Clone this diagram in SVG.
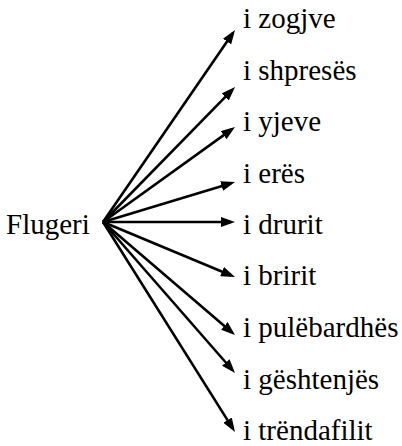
<svg xmlns="http://www.w3.org/2000/svg" width="402" height="446" viewBox="0 0 402 446">
<style>
text{font-family:'Liberation Serif','DejaVu Serif',serif;font-size:29px;fill:#000}
.c{stroke:#000;stroke-width:2.6;fill:none;marker-end:url(#ah)}
</style>
<defs>
<marker id="ah" markerUnits="userSpaceOnUse" markerWidth="14" markerHeight="10" viewBox="0 0 14 10" refX="10" refY="5" orient="auto">
<path d="M0,0 L14,5 L0,10 z" fill="#000"/>
</marker>
</defs>
<rect width="402" height="446" fill="#fff"/>
<g id="connectors">
<path class="c" d="M103,222 L232.73,33.30"/>
<path class="c" d="M103,222 L232.20,89.86"/>
<path class="c" d="M103,222 L231.75,129.34"/>
<path class="c" d="M103,222 L231.17,183.16"/>
<path class="c" d="M103,222 L231,222"/>
<path class="c" d="M103,222 L231.31,275.46"/>
<path class="c" d="M103,222 L231.96,332.40"/>
<path class="c" d="M103,222 L232.37,369.99"/>
<path class="c" d="M103,222 L232.87,428.61"/>
</g>
<g id="flugeri"><text x="6" y="234" font-family="Liberation Serif, serif">Flugeri</text></g>
<g id="n1"><text x="243" y="28">i zogjve</text></g>
<g id="n2"><text x="243" y="80">i shpresës</text></g>
<g id="n3"><text x="243" y="131">i yjeve</text></g>
<g id="n4"><text x="243" y="183">i erës</text></g>
<g id="n5"><text x="243" y="234">i drurit</text></g>
<g id="n6"><text x="243" y="285">i bririt</text></g>
<g id="n7"><text x="243" y="337">i pulëbardhës</text></g>
<g id="n8"><text x="243" y="389">i gështenjës</text></g>
<g id="n9"><text x="243" y="440">i trëndafilit</text></g>
</svg>
